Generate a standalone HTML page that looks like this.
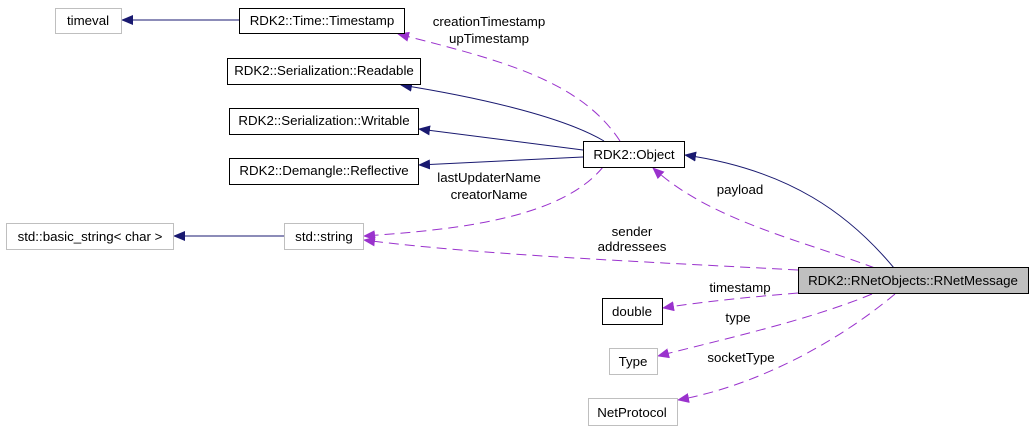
<!DOCTYPE html>
<html><head><meta charset="utf-8"><style>
html,body{margin:0;padding:0;background:#fff;}
svg{display:block;}
text{font-family:"Liberation Sans",sans-serif;font-size:13.3px;fill:#000;}
</style></head><body>
<svg width="1032" height="431" viewBox="0 0 1032 431" xmlns="http://www.w3.org/2000/svg">
<defs>
<marker id="an" markerWidth="12" markerHeight="10" refX="11" refY="5" orient="auto" markerUnits="userSpaceOnUse"><path d="M0,0 L12,5 L0,10 z" fill="#191970"/></marker>
<marker id="ap" markerWidth="12" markerHeight="10" refX="11" refY="5" orient="auto" markerUnits="userSpaceOnUse"><path d="M0,0 L12,5 L0,10 z" fill="#9a32cd"/></marker>
</defs>
<g fill="none" stroke="#191970" stroke-width="1">
<path d="M239,20 L122,20" marker-end="url(#an)"/>
<path d="M284,236 L174,236" marker-end="url(#an)"/>
<path d="M604,141 C560,115 470,96 401,85" marker-end="url(#an)"/>
<path d="M583,150 L419,129" marker-end="url(#an)"/>
<path d="M583,157 L419,165" marker-end="url(#an)"/>
<path d="M894,268 C850,215 790,170 685,155" marker-end="url(#an)"/>
</g>
<g fill="none" stroke="#9a32cd" stroke-width="1" stroke-dasharray="10,6">
<path d="M620,141 C580,80 500,60 398,34" marker-end="url(#ap)"/>
<path d="M603,167 C560,220 450,230 364,236" marker-end="url(#ap)"/>
<path d="M875,268 C800,240 710,220 653,168" marker-end="url(#ap)"/>
<path d="M798,270 C650,262 480,255 364,240" marker-end="url(#ap)"/>
<path d="M798,293 C750,297 700,302 663,308" marker-end="url(#ap)"/>
<path d="M872,294 C810,320 720,340 658,356" marker-end="url(#ap)"/>
<path d="M895,294 C840,340 760,385 678,400" marker-end="url(#ap)"/>
</g>
<g stroke-width="1" fill="#fff">
<rect x="55.5" y="8.5" width="66" height="25" stroke="#bfbfbf"/>
<rect x="239.5" y="8.5" width="165" height="25" stroke="#000"/>
<rect x="227.5" y="58.5" width="193" height="26" stroke="#000"/>
<rect x="229.5" y="108.5" width="189" height="26" stroke="#000"/>
<rect x="229.5" y="158.5" width="189" height="26" stroke="#000"/>
<rect x="583.5" y="141.5" width="101" height="26" stroke="#000"/>
<rect x="6.5" y="223.5" width="167" height="26" stroke="#bfbfbf"/>
<rect x="284.5" y="223.5" width="79" height="26" stroke="#bfbfbf"/>
<rect x="798.5" y="267.5" width="230" height="26" stroke="#000" fill="#bfbfbf"/>
<rect x="602.5" y="298.5" width="60" height="26" stroke="#000"/>
<rect x="609.5" y="348.5" width="48" height="26" stroke="#bfbfbf"/>
<rect x="588.5" y="398.5" width="89" height="27" stroke="#bfbfbf"/>
</g>
<g text-anchor="middle">
<text x="88" y="25">timeval</text>
<text x="322" y="25">RDK2::Time::Timestamp</text>
<text x="324" y="75">RDK2::Serialization::Readable</text>
<text x="324" y="125">RDK2::Serialization::Writable</text>
<text x="324" y="175">RDK2::Demangle::Reflective</text>
<text x="634" y="159">RDK2::Object</text>
<text x="90" y="241">std::basic_string&lt; char &gt;</text>
<text x="324" y="241">std::string</text>
<text x="913" y="285">RDK2::RNetObjects::RNetMessage</text>
<text x="632" y="316">double</text>
<text x="633" y="366">Type</text>
<text x="632" y="417">NetProtocol</text>
<text x="489" y="26">creationTimestamp</text>
<text x="489" y="43">upTimestamp</text>
<text x="489" y="182">lastUpdaterName</text>
<text x="489" y="199">creatorName</text>
<text x="740" y="194">payload</text>
<text x="632" y="236">sender</text>
<text x="632" y="251">addressees</text>
<text x="740" y="292">timestamp</text>
<text x="738" y="322">type</text>
<text x="741" y="362">socketType</text>
</g>
</svg>
</body></html>
